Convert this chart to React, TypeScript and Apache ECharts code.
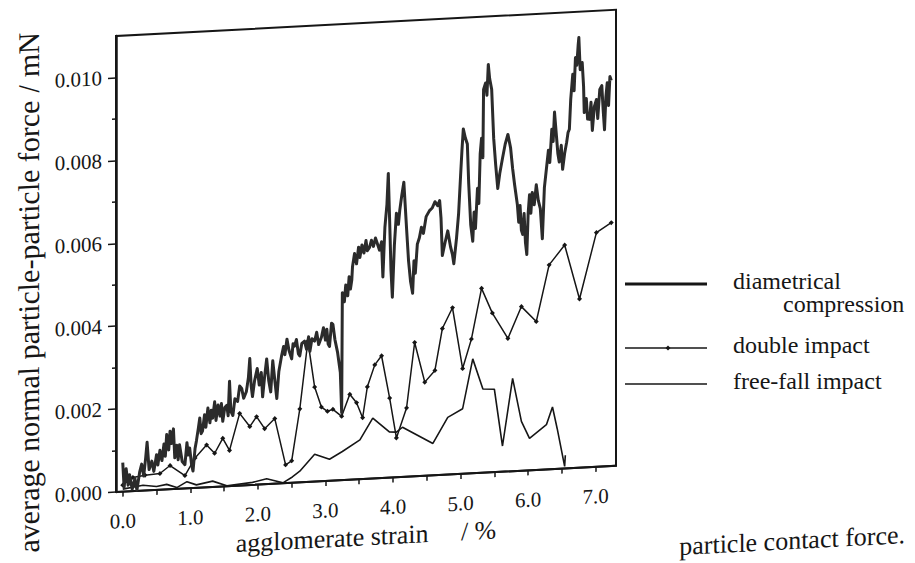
import { useEffect, useRef } from "react";
import * as echarts from "echarts";

// Axis ticks and labels
const xTickLabels = [0, 1, 2, 3, 4, 5, 6, 7];
const xTicks = [0, 0.5, 1, 1.5, 2, 2.5, 3, 3.5, 4, 4.5, 5, 5.5, 6, 6.5, 7];
const yTickLabels = [0, 0.002, 0.004, 0.006, 0.008, 0.01];
const yMinorTicks = [0.001, 0.003, 0.005, 0.007, 0.009];

// [agglomerate strain %, average normal contact force in µN]
const diametrical: [number, number][] = [
  [0.0, 0.7], [0.02, 0.1], [0.05, 0.55], [0.08, 0.15], [0.1, 0.4], [0.14, 0.05], [0.18, 0.3],
  [0.21, 0.02], [0.25, 0.45], [0.28, 0.64], [0.31, 0.35], [0.34, 0.8], [0.36, 1.16], [0.39, 0.5],
  [0.43, 0.7], [0.46, 0.45], [0.5, 0.85], [0.52, 0.6], [0.55, 0.95], [0.58, 0.7], [0.61, 1.1],
  [0.63, 0.8], [0.65, 1.32], [0.68, 0.95], [0.7, 1.4], [0.72, 1.1], [0.75, 1.45], [0.77, 0.75],
  [0.8, 1.05], [0.82, 0.7], [0.84, 1.06], [0.88, 0.65], [0.92, 0.57], [0.95, 1.1], [0.97, 0.8],
  [0.99, 0.97], [1.02, 0.55], [1.04, 0.41], [1.07, 0.95], [1.09, 1.13], [1.12, 1.45], [1.14, 1.68],
  [1.16, 1.3], [1.18, 1.36], [1.21, 1.75], [1.23, 1.45], [1.26, 1.91], [1.29, 1.55], [1.31, 1.85],
  [1.33, 1.66], [1.36, 2.05], [1.38, 1.6], [1.41, 1.97], [1.44, 1.7], [1.46, 2.0], [1.48, 1.57],
  [1.51, 1.9], [1.54, 1.95], [1.56, 1.7], [1.58, 2.53], [1.6, 1.8], [1.63, 1.7], [1.66, 2.1],
  [1.7, 2.03], [1.73, 2.4], [1.76, 2.34], [1.79, 2.1], [1.83, 2.26], [1.86, 2.6], [1.88, 3.05],
  [1.9, 2.4], [1.92, 2.13], [1.95, 2.5], [1.99, 2.8], [2.02, 2.4], [2.05, 2.7], [2.07, 2.11],
  [2.1, 2.6], [2.13, 3.02], [2.16, 2.5], [2.19, 2.22], [2.22, 2.97], [2.25, 2.5], [2.28, 2.05],
  [2.31, 2.7], [2.35, 3.07], [2.38, 3.3], [2.4, 3.1], [2.43, 3.47], [2.46, 3.2], [2.5, 2.99],
  [2.52, 3.35], [2.54, 3.29], [2.57, 3.45], [2.6, 3.1], [2.62, 3.05], [2.65, 3.35], [2.69, 3.4],
  [2.72, 3.2], [2.75, 3.5], [2.77, 3.15], [2.8, 3.45], [2.84, 3.39], [2.87, 3.6], [2.9, 3.3],
  [2.94, 3.47], [2.97, 3.7], [3.0, 3.4], [3.02, 3.66], [3.04, 3.3], [3.06, 3.24], [3.09, 3.8],
  [3.11, 3.77], [3.14, 3.4], [3.18, 3.08], [3.22, 2.6], [3.24, 1.63], [3.25, 4.52], [3.28, 4.3],
  [3.3, 4.7], [3.33, 4.44], [3.35, 4.9], [3.37, 4.6], [3.39, 4.82], [3.4, 5.13], [3.43, 5.45],
  [3.46, 5.2], [3.49, 5.6], [3.51, 5.35], [3.54, 5.65], [3.57, 5.45], [3.6, 5.75], [3.62, 5.5],
  [3.65, 5.57], [3.68, 5.75], [3.71, 5.6], [3.74, 5.8], [3.76, 5.7], [3.8, 5.5], [3.83, 5.7],
  [3.85, 4.85], [3.88, 6.05], [3.91, 6.6], [3.93, 7.34], [3.95, 6.2], [3.97, 5.0], [3.99, 4.35],
  [4.02, 5.6], [4.05, 6.37], [4.08, 6.1], [4.1, 6.44], [4.13, 6.8], [4.16, 7.11], [4.2, 6.0],
  [4.23, 5.2], [4.26, 4.7], [4.29, 4.42], [4.31, 5.2], [4.33, 4.9], [4.36, 5.6], [4.39, 5.75],
  [4.42, 6.0], [4.45, 5.85], [4.49, 6.25], [4.54, 6.39], [4.58, 6.45], [4.62, 6.6], [4.66, 6.5],
  [4.69, 6.62], [4.71, 6.2], [4.73, 5.29], [4.77, 5.6], [4.81, 5.88], [4.85, 5.5], [4.88, 5.3],
  [4.9, 5.08], [4.94, 5.7], [4.97, 6.27], [5.0, 7.2], [5.02, 7.8], [5.04, 8.32], [5.07, 8.1],
  [5.1, 7.95], [5.12, 7.0], [5.15, 6.0], [5.18, 5.6], [5.2, 6.3], [5.22, 5.9], [5.25, 6.87],
  [5.27, 6.5], [5.29, 7.7], [5.31, 8.07], [5.33, 7.6], [5.34, 9.25], [5.37, 9.4], [5.39, 9.1],
  [5.41, 9.84], [5.43, 9.5], [5.46, 9.24], [5.49, 8.05], [5.52, 7.4], [5.55, 6.84], [5.58, 7.2],
  [5.62, 7.56], [5.66, 7.9], [5.7, 8.13], [5.74, 7.8], [5.77, 7.3], [5.8, 6.9], [5.84, 6.43],
  [5.86, 6.0], [5.88, 6.4], [5.9, 5.8], [5.92, 5.7], [5.94, 6.2], [5.96, 5.5], [5.98, 5.21],
  [6.0, 6.2], [6.02, 6.65], [6.04, 6.2], [6.06, 6.7], [6.09, 6.4], [6.12, 6.88], [6.15, 6.5],
  [6.18, 6.3], [6.21, 5.57], [6.24, 6.8], [6.27, 7.25], [6.3, 7.7], [6.32, 7.4], [6.35, 8.2],
  [6.37, 7.9], [6.39, 8.61], [6.42, 8.0], [6.44, 7.6], [6.46, 7.4], [6.49, 7.8], [6.51, 7.22],
  [6.54, 7.6], [6.57, 7.87], [6.59, 8.1], [6.61, 8.18], [6.63, 8.9], [6.66, 9.5], [6.68, 9.1],
  [6.7, 9.9], [6.72, 9.71], [6.74, 10.2], [6.75, 10.38], [6.77, 9.6], [6.8, 9.77], [6.82, 9.2],
  [6.83, 8.56], [6.86, 8.9], [6.88, 8.4], [6.91, 8.39], [6.93, 8.8], [6.95, 8.12], [6.98, 8.7],
  [7.01, 8.86], [7.03, 8.4], [7.06, 9.1], [7.09, 9.19], [7.11, 8.6], [7.13, 8.12], [7.15, 8.9],
  [7.17, 9.25], [7.19, 8.7], [7.21, 9.4], [7.23, 9.3],
];

const doubleImpact: [number, number][] = [
  [0.0, 0.16], [0.15, 0.33], [0.33, 0.37], [0.55, 0.39], [0.7, 0.57], [0.92, 0.31], [1.07, 0.72],
  [1.24, 1.02], [1.36, 0.81], [1.48, 1.16], [1.58, 0.86], [1.73, 1.74], [1.88, 1.41], [1.98, 1.64],
  [2.1, 1.34], [2.25, 1.57], [2.41, 0.44], [2.5, 0.53], [2.62, 1.77], [2.74, 3.4], [2.84, 2.28],
  [2.94, 1.79], [3.03, 1.68], [3.11, 1.72], [3.24, 1.54], [3.36, 2.06], [3.46, 1.85], [3.55, 1.48],
  [3.62, 2.22], [3.73, 2.74], [3.83, 2.95], [3.95, 1.92], [4.05, 0.95], [4.2, 1.66], [4.32, 3.23],
  [4.47, 2.26], [4.62, 2.53], [4.73, 3.53], [4.88, 4.02], [5.03, 2.54], [5.16, 3.24], [5.31, 4.45],
  [5.47, 3.84], [5.7, 3.21], [5.9, 3.96], [6.12, 3.58], [6.31, 4.93], [6.54, 5.39], [6.76, 4.07],
  [7.01, 5.65], [7.23, 5.87],
];

const freeFall: [number, number][] = [
  [0.0, 0.06], [0.3, 0.13], [0.5, 0.08], [0.65, 0.12], [0.8, 0.03], [0.95, 0.16], [1.09, 0.07],
  [1.33, 0.14], [1.54, 0.01], [1.92, 0.06], [2.13, 0.13], [2.37, 0.01], [2.51, 0.14], [2.62, 0.27],
  [2.84, 0.66], [3.06, 0.52], [3.25, 0.69], [3.51, 0.95], [3.7, 1.46], [3.95, 1.1], [4.05, 1.09],
  [4.14, 1.2], [4.59, 0.77], [4.81, 1.38], [5.03, 1.57], [5.18, 2.76], [5.33, 2.02], [5.5, 2.0],
  [5.62, 0.62], [5.77, 2.24], [5.9, 1.19], [6.02, 0.77], [6.27, 1.08], [6.36, 1.5], [6.43, 0.97],
  [6.54, 0.05], [6.55, 0.32],
];

const seriesNames = ["diametrical compression", "double impact", "free-fall impact"];
const yTitle = "average normal particle-particle force / mN";
const xTitle = "agglomerate strain     / %";
const captionFragment = "particle contact force.";

const ink = "#161616";
const serif = "Liberation Serif, Times New Roman, serif";

// µN -> mN for the force axis
const toMilliNewton = (pts: [number, number][]) =>
  pts.map(([s, f]) => [s, f / 1000] as [number, number]);

export default function App() {
  const plotRef = useRef<HTMLDivElement>(null);
  const keyRef = useRef<HTMLDivElement>(null);

  useEffect(() => {
    if (!plotRef.current || !keyRef.current) return;
    const plot = echarts.init(plotRef.current, undefined, { renderer: "svg" });
    const key = echarts.init(keyRef.current, undefined, { renderer: "svg" });

    plot.setOption({
      animation: false,
      backgroundColor: "transparent",
      textStyle: { fontFamily: serif },
      grid: {
        left: 116,
        top: 36,
        width: 500,
        height: 456,
        show: true,
        borderColor: ink,
        borderWidth: 2,
        backgroundColor: "transparent",
      },
      xAxis: {
        type: "value",
        min: -0.1,
        max: 7.3,
        axisLine: { show: true, onZero: false, lineStyle: { color: ink, width: 2 } },
        axisTick: {
          show: true,
          inside: false,
          length: 5,
          customValues: xTicks,
          lineStyle: { color: ink, width: 1.5 },
        },
        axisLabel: {
          customValues: xTickLabels,
          formatter: (v: number) => v.toFixed(1),
          fontFamily: serif,
          fontSize: 21,
          color: ink,
          margin: 19,
        },
        splitLine: { show: false },
        name: xTitle,
        nameLocation: "middle",
        nameGap: 39,
        nameTextStyle: { fontFamily: serif, fontSize: 26, color: ink },
      },
      yAxis: [
        {
          type: "value",
          min: 0,
          max: 0.011,
          axisLine: { show: true, onZero: false, lineStyle: { color: ink, width: 2.5 } },
          axisTick: {
            show: true,
            inside: false,
            length: 8,
            customValues: yTickLabels,
            lineStyle: { color: ink, width: 1.5 },
          },
          axisLabel: {
            customValues: yTickLabels,
            formatter: (v: number) => v.toFixed(3),
            fontFamily: serif,
            fontSize: 21,
            color: ink,
            margin: 14,
          },
          splitLine: { show: false },
        },
        {
          type: "value",
          min: 0,
          max: 0.011,
          position: "left",
          axisLine: { show: false, onZero: false },
          axisTick: {
            show: true,
            inside: false,
            length: 4,
            customValues: yMinorTicks,
            lineStyle: { color: ink, width: 1.5 },
          },
          axisLabel: { show: false },
          splitLine: { show: false },
        },
      ],
      graphic: [
        {
          type: "text",
          x: 29,
          y: 288,
          rotation: Math.PI / 2,
          style: {
            text: yTitle,
            fontFamily: serif,
            fontSize: 30,
            fill: ink,
            align: "center",
            verticalAlign: "middle",
          },
        },
        {
          type: "text",
          x: 905,
          y: 589,
          style: {
            text: captionFragment,
            fontFamily: serif,
            fontSize: 26,
            fill: ink,
            align: "right",
            verticalAlign: "bottom",
          },
        },
      ],
      series: [
        {
          name: seriesNames[0],
          type: "line",
          data: toMilliNewton(diametrical),
          showSymbol: false,
          lineStyle: { color: "#2b2b2b", width: 3, join: "round" },
          z: 3,
        },
        {
          name: seriesNames[1],
          type: "line",
          data: toMilliNewton(doubleImpact),
          symbol: "diamond",
          symbolSize: 5,
          itemStyle: { color: ink },
          lineStyle: { color: ink, width: 1.5 },
          z: 2,
        },
        {
          name: seriesNames[2],
          type: "line",
          data: toMilliNewton(freeFall),
          showSymbol: false,
          lineStyle: { color: ink, width: 1.6 },
          z: 2,
        },
      ],
    });

    // Key at the right of the plot, drawn upright
    const keyLines = [
      { y: 284, width: 3.2, marker: false },
      { y: 348, width: 1.5, marker: true },
      { y: 384, width: 1.5, marker: false },
    ];
    const keyGraphics: any[] = [];
    keyLines.forEach((k) => {
      keyGraphics.push({
        type: "line",
        shape: { x1: 625, y1: k.y, x2: 707, y2: k.y },
        style: { stroke: ink, lineWidth: k.width },
      });
      if (k.marker) {
        keyGraphics.push({
          type: "polygon",
          shape: { points: [[668, k.y - 2.5], [670.5, k.y], [668, k.y + 2.5], [665.5, k.y]] },
          style: { fill: ink },
        });
      }
    });
    const keyTexts = [
      { text: "diametrical", x: 733, y: 281 },
      { text: "compression", x: 783, y: 304 },
      { text: seriesNames[1], x: 733, y: 345 },
      { text: seriesNames[2], x: 733, y: 381 },
    ];
    keyTexts.forEach((t) => {
      keyGraphics.push({
        type: "text",
        x: t.x,
        y: t.y,
        style: {
          text: t.text,
          fontFamily: serif,
          fontSize: 24,
          fill: ink,
          align: "left",
          verticalAlign: "middle",
        },
      });
    });
    key.setOption({ animation: false, backgroundColor: "transparent", graphic: keyGraphics });

    return () => {
      plot.dispose();
      key.dispose();
    };
  }, []);

  return (
    <div
      style={{
        position: "fixed",
        left: 0,
        top: 0,
        width: 915,
        height: 563,
        overflow: "hidden",
        background: "#ffffff",
      }}
    >
      <div
        ref={plotRef}
        style={{
          position: "absolute",
          left: 0,
          top: 0,
          width: 915,
          height: 640,
          transform: "skewY(-3deg)",
          transformOrigin: "116px 0px",
        }}
      />
      <div
        ref={keyRef}
        style={{ position: "absolute", left: 0, top: 0, width: 915, height: 563 }}
      />
    </div>
  );
}
